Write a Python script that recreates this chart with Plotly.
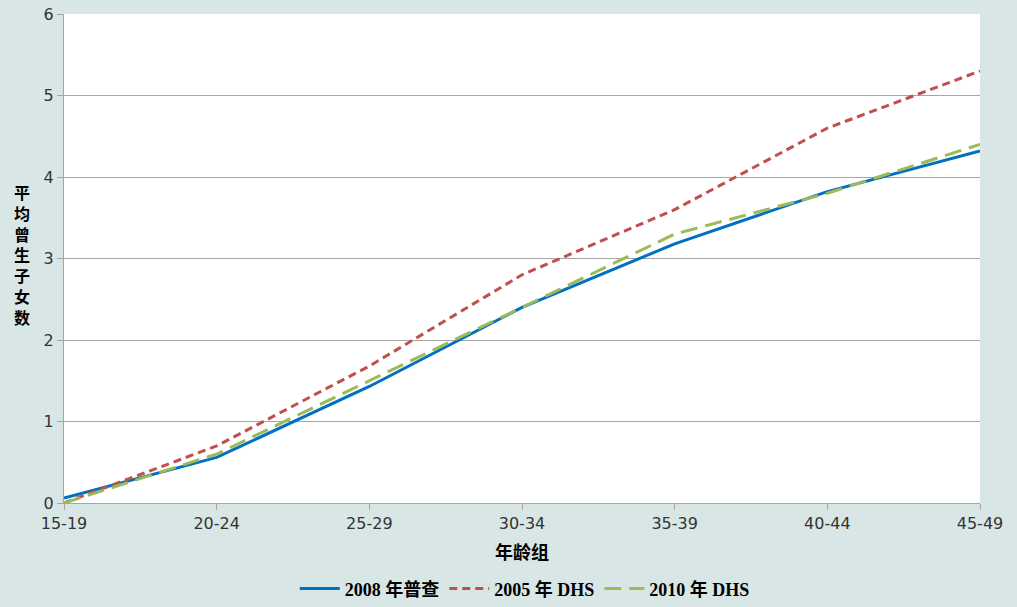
import plotly.graph_objects as go

AGE_GROUPS = ["15-19", "20-24", "25-29", "30-34", "35-39", "40-44", "45-49"]
CENSUS_2008 = [0.06, 0.56, 1.43, 2.40, 3.18, 3.82, 4.32]
DHS_2005 = [0.00, 0.70, 1.68, 2.80, 3.60, 4.60, 5.30]
DHS_2010 = [0.00, 0.60, 1.50, 2.40, 3.30, 3.80, 4.40]
Y_TICKS = [0, 1, 2, 3, 4, 5, 6]

BG_COLOR = "#d9e6e6"
GRID_COLOR = "#a6a6a6"
TICK_FONT = {"family": "DejaVu Sans, Verdana, sans-serif", "size": 16, "color": "#333333"}
LABEL_FONT = "Liberation Serif, Noto Sans CJK SC, serif"

fig = go.Figure()
fig.add_trace(
    go.Scatter(
        x=AGE_GROUPS,
        y=CENSUS_2008,
        mode="lines",
        name="<b>2008 年普查</b>",
        line={"color": "#0070c0", "width": 3},
    )
)
fig.add_trace(
    go.Scatter(
        x=AGE_GROUPS,
        y=DHS_2005,
        mode="lines",
        name="<b>2005 年 DHS</b>",
        line={"color": "#c0504d", "width": 3, "dash": "8px,5px"},
    )
)
fig.add_trace(
    go.Scatter(
        x=AGE_GROUPS,
        y=DHS_2010,
        mode="lines",
        name="<b>2010 年 DHS</b>",
        line={"color": "#9bbb59", "width": 3, "dash": "17px,8px"},
    )
)

fig.update_layout(
    width=1017,
    height=607,
    paper_bgcolor=BG_COLOR,
    plot_bgcolor="white",
    margin={"l": 64, "r": 37, "t": 14, "b": 104, "autoexpand": False},
    showlegend=True,
    legend={
        "orientation": "h",
        "xref": "container",
        "yref": "container",
        "xanchor": "center",
        "x": 0.516,
        "yanchor": "middle",
        "y": 0.03,
        "font": {"family": LABEL_FONT, "size": 18, "color": "#000000"},
        "bgcolor": "rgba(0,0,0,0)",
        "itemwidth": 40,
    },
    annotations=[
        {
            "text": "<b>平<br>均<br>曾<br>生<br>子<br>女<br>数</b>",
            "xref": "paper",
            "yref": "paper",
            "x": -0.046,
            "y": 0.506,
            "xanchor": "center",
            "yanchor": "middle",
            "showarrow": False,
            "font": {"family": LABEL_FONT, "size": 16, "color": "#000000"},
        }
    ],
)
fig.update_xaxes(
    type="category",
    range=[0, len(AGE_GROUPS) - 1],
    showgrid=False,
    showline=True,
    linecolor=GRID_COLOR,
    linewidth=1,
    ticks="outside",
    ticklen=6,
    tickcolor=GRID_COLOR,
    tickfont=TICK_FONT,
    automargin=False,
    title={"text": "<b>年龄组</b>", "font": {"family": LABEL_FONT, "size": 18, "color": "#000000"}, "standoff": 14},
)
fig.update_yaxes(
    range=[0, 6],
    tickvals=Y_TICKS,
    showgrid=True,
    gridcolor=GRID_COLOR,
    gridwidth=1,
    zeroline=False,
    showline=True,
    linecolor=GRID_COLOR,
    ticks="outside",
    ticklen=6,
    tickcolor=GRID_COLOR,
    tickfont=TICK_FONT,
    automargin=False,
)

fig.write_html(
    "out.html",
    config={"displayModeBar": False},
    post_script="document.body.style.margin='0';document.body.style.background='#d9e6e6';",
)
